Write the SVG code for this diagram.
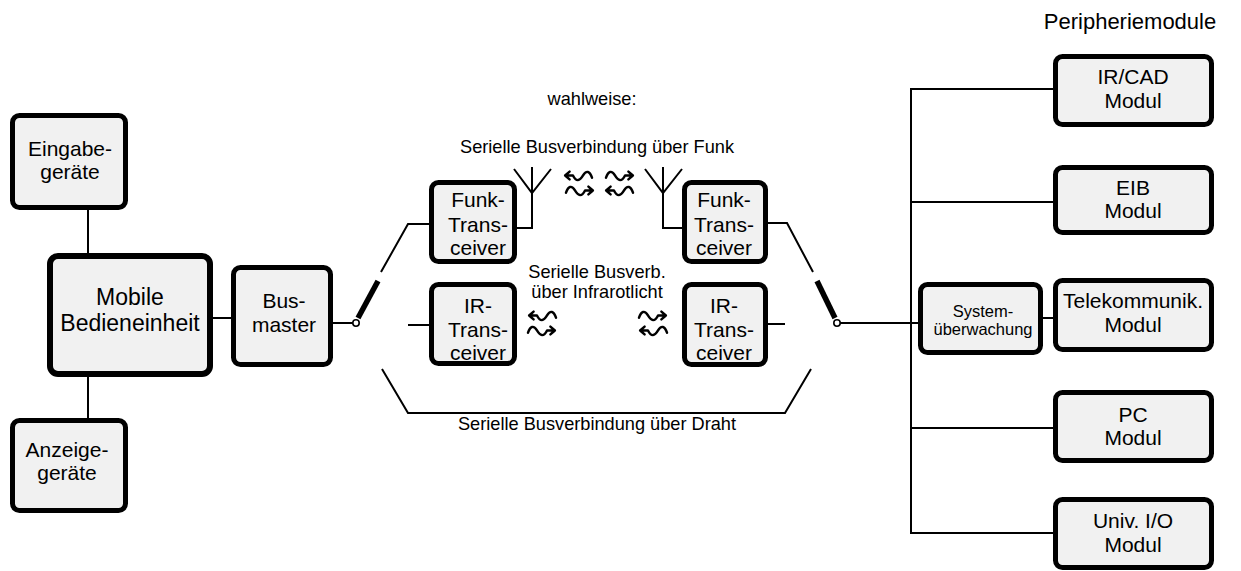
<svg xmlns="http://www.w3.org/2000/svg" width="1241" height="571" viewBox="0 0 1241 571">
<style>
.box{fill:#f1f1f1;stroke:#000;stroke-width:5}
.big{stroke-width:6}
.t{font-family:"Liberation Sans",Arial,sans-serif;font-size:21px;fill:#000;text-anchor:middle}
.tm{font-size:23px}
.ts{font-size:16.5px}
.lbl{font-family:"Liberation Sans",Arial,sans-serif;font-size:18.2px;fill:#000;text-anchor:middle}
.ln{fill:none;stroke:#000;stroke-width:2}
.blade{stroke:#000;stroke-width:5.5;stroke-linecap:butt}
.w{fill:none;stroke:#000;stroke-width:2.2;stroke-linejoin:round;stroke-linecap:round}
</style>
<defs>
<g id="waveR">
<path class="w" d="M0,6 C2,0 5,-1 8,4 S14,10 17,4 L24,4 M20,0.5 L24,4 L20,7.5"/>
</g>
</defs>
<rect width="1241" height="571" fill="#fff"/>

<g id="connectors">
<path class="ln" d="M88,210 V256 M88,376 V418"/>
<path class="ln" d="M212,318 H232"/>
<path class="ln" d="M332,323 H353"/>
<path class="ln" d="M381,272 L408,224 H431"/>
<path class="ln" d="M408,325 H431"/>
<path class="ln" d="M382,369 L408,413 H785 L811,369"/>
<path class="ln" d="M766,223 H787 L813,272"/>
<path class="ln" d="M766,324 H785"/>
<path class="ln" d="M840,323 H920"/>
<path class="ln" d="M1041,318 H1055"/>
<path class="ln" d="M1055,89 H911 V533 H1055 M911,202 H1055 M911,428 H1055"/>
<line class="blade" x1="358" y1="318" x2="378" y2="281"/>
<circle cx="356" cy="323" r="3.2" fill="#fff" stroke="#000" stroke-width="1.6"/>
<line class="blade" x1="835" y1="318" x2="817" y2="281"/>
<circle cx="837" cy="323" r="3.2" fill="#fff" stroke="#000" stroke-width="1.6"/>
</g>

<g id="antennas">
<path class="ln" d="M516,228 H532 V167 M514,169 L532,193 L551,169"/>
<path class="ln" d="M684,228 H663 V167 M645,169 L663,193 L682,169"/>
</g>

<g id="signals">
<use href="#waveR" transform="translate(592,171) scale(-1.12,1.12)"/>
<use href="#waveR" transform="translate(566,186) scale(1.12)"/>
<use href="#waveR" transform="translate(606,171) scale(1.12)"/>
<use href="#waveR" transform="translate(633,186) scale(-1.12,1.12)"/>
<use href="#waveR" transform="translate(556,311) scale(-1.12,1.12)"/>
<use href="#waveR" transform="translate(528,326) scale(1.12)"/>
<use href="#waveR" transform="translate(639,311) scale(1.12)"/>
<use href="#waveR" transform="translate(667,326) scale(-1.12,1.12)"/>
</g>

<g id="labels">
<text class="lbl" x="592" y="105">wahlweise:</text>
<text class="lbl" x="597" y="153">Serielle Busverbindung über Funk</text>
<text class="lbl" x="597" y="278">Serielle Busverb.</text>
<text class="lbl" x="597" y="298">über Infrarotlicht</text>
<text class="lbl" x="597" y="430">Serielle Busverbindung über Draht</text>
<text class="lbl" x="1130" y="29" style="font-size:22px">Peripheriemodule</text>
</g>

<g id="eingabe">
<rect class="box" x="12.5" y="115.5" width="113" height="92" rx="7"/>
<text class="t" x="70" y="156">Eingabe-</text>
<text class="t" x="70" y="179">geräte</text>
</g>
<g id="mobile">
<rect class="box big" x="50" y="256" width="160" height="118" rx="8"/>
<text class="t tm" x="130" y="305">Mobile</text>
<text class="t tm" x="130" y="331">Bedieneinheit</text>
</g>
<g id="busmaster">
<rect class="box" x="233.5" y="267.5" width="97" height="97" rx="7"/>
<text class="t" x="284" y="308">Bus-</text>
<text class="t" x="284" y="332">master</text>
</g>
<g id="anzeige">
<rect class="box" x="12.5" y="420.5" width="113" height="90" rx="7"/>
<text class="t" x="67" y="457">Anzeige-</text>
<text class="t" x="67" y="480">geräte</text>
</g>
<g id="funk-left">
<rect class="box" x="431.5" y="182.5" width="83" height="79" rx="7"/>
<text class="t" x="478" y="207">Funk-</text>
<text class="t" x="478" y="232">Trans-</text>
<text class="t" x="478" y="255">ceiver</text>
</g>
<g id="funk-right">
<rect class="box" x="684.5" y="182.5" width="81" height="79" rx="7"/>
<text class="t" x="724" y="207">Funk-</text>
<text class="t" x="724" y="232">Trans-</text>
<text class="t" x="724" y="255">ceiver</text>
</g>
<g id="ir-left">
<rect class="box" x="431.5" y="284.5" width="83" height="79" rx="7"/>
<text class="t" x="478" y="313">IR-</text>
<text class="t" x="478" y="337">Trans-</text>
<text class="t" x="478" y="360">ceiver</text>
</g>
<g id="ir-right">
<rect class="box" x="684.5" y="284.5" width="81" height="80" rx="7"/>
<text class="t" x="724" y="313">IR-</text>
<text class="t" x="724" y="337">Trans-</text>
<text class="t" x="724" y="360">ceiver</text>
</g>
<g id="systemueberwachung">
<rect class="box" x="920.5" y="284.5" width="120" height="68" rx="7"/>
<text class="t ts" x="983" y="317">System-</text>
<text class="t ts" x="983" y="335">überwachung</text>
</g>
<g id="ircad">
<rect class="box" x="1055.5" y="56.5" width="156" height="68" rx="7"/>
<text class="t" x="1133" y="84">IR/CAD</text>
<text class="t" x="1133" y="108">Modul</text>
</g>
<g id="eib">
<rect class="box" x="1055.5" y="167.5" width="156" height="65" rx="7"/>
<text class="t" x="1133" y="195">EIB</text>
<text class="t" x="1133" y="218">Modul</text>
</g>
<g id="telekom">
<rect class="box" x="1055.5" y="280.5" width="156" height="69" rx="7"/>
<text class="t" x="1133" y="308">Telekommunik.</text>
<text class="t" x="1133" y="332">Modul</text>
</g>
<g id="pc">
<rect class="box" x="1055.5" y="392.5" width="156" height="68" rx="7"/>
<text class="t" x="1133" y="422">PC</text>
<text class="t" x="1133" y="445">Modul</text>
</g>
<g id="univio">
<rect class="box" x="1055.5" y="499.5" width="156" height="68" rx="7"/>
<text class="t" x="1133" y="528">Univ. I/O</text>
<text class="t" x="1133" y="552">Modul</text>
</g>
</svg>
